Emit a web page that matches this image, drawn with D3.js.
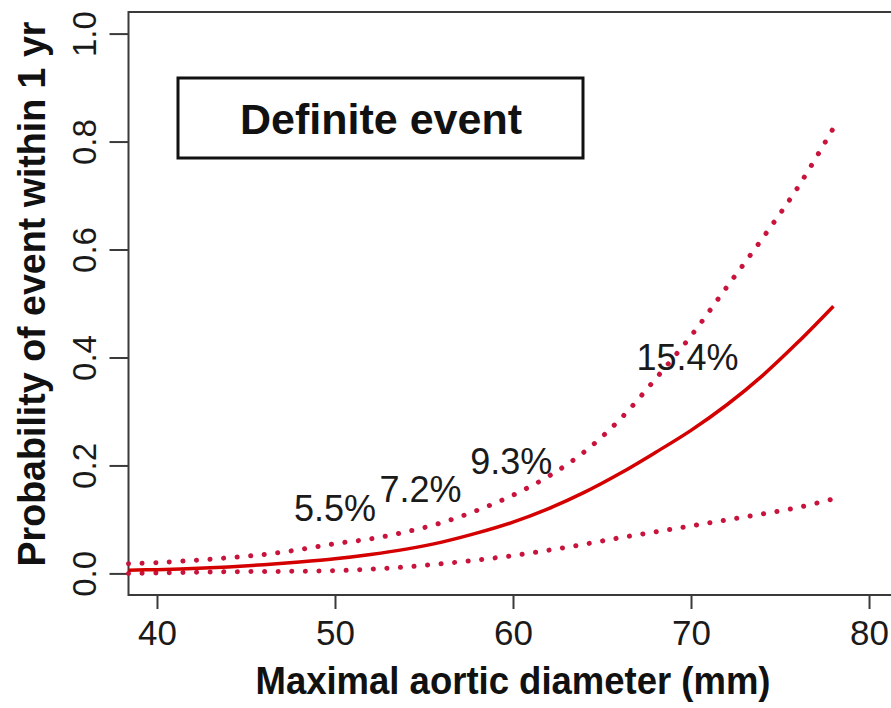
<!DOCTYPE html>
<html>
<head>
<meta charset="utf-8">
<script src="https://cdn.jsdelivr.net/npm/d3@7"></script>
<style>
  body { margin: 0; background: #fff; }
  text { font-family: "Liberation Sans", Arial, sans-serif; }
</style>
</head>
<body>
<script>
// aortic diameter (mm) and fitted 1-yr probability with 95% band
var diameter = [38.4, 40, 42, 44, 46, 48, 50, 52, 54, 56, 58, 60, 62, 64, 66, 68, 70, 72, 74, 76, 78];
var probFit  = [0.006, 0.007, 0.009, 0.012, 0.016, 0.021, 0.027, 0.035, 0.045, 0.058, 0.075, 0.095, 0.12, 0.15, 0.185, 0.224, 0.265, 0.312, 0.366, 0.428, 0.495];
var probUpper = [0.018, 0.02, 0.024, 0.029, 0.035, 0.044, 0.055, 0.064, 0.077, 0.094, 0.117, 0.145, 0.18, 0.225, 0.285, 0.36, 0.44, 0.53, 0.62, 0.715, 0.825];
var probLower = [0.0, 0.001, 0.002, 0.003, 0.0035, 0.004, 0.005, 0.008, 0.012, 0.018, 0.025, 0.033, 0.043, 0.054, 0.066, 0.077, 0.088, 0.099, 0.11, 0.122, 0.138];

// annotation labels
var noteText = ["5.5%", "7.2%", "9.3%", "15.4%"];
var noteX = [50, 54.8, 59.9, 69.8];
var noteY = [0.122, 0.156, 0.209, 0.40];

var xTicks = [40, 50, 60, 70, 80];
var yTicks = [0, 0.2, 0.4, 0.6, 0.8, 1.0];

var width = 891, height = 708;

var svg = d3.select("body").append("svg")
    .attr("width", width)
    .attr("height", height);

// R-style 4% expanded limits
var xScale = d3.scaleLinear().domain([38.4, 81.6]).range([128.5, 897.5]);
var yScale = d3.scaleLinear().domain([-0.04, 1.04]).range([595, 12]);

var plotLeft = xScale.range()[0], plotTop = yScale.range()[1], plotBottom = yScale.range()[0];

// box (right side runs off the picture)
svg.append("path")
    .attr("d", "M" + (width + 5) + "," + plotTop + "H" + plotLeft + "V" + plotBottom + "H" + (width + 5))
    .attr("fill", "none")
    .attr("stroke", "#3a3a3a")
    .attr("stroke-width", 2);

// y axis
var yAxis = d3.axisLeft(yScale)
    .tickValues(yTicks)
    .tickSize(19)
    .tickFormat(d3.format(".1f"));
var gy = svg.append("g")
    .attr("transform", "translate(" + plotLeft + ",0)")
    .call(yAxis);
gy.select(".domain").remove();
gy.selectAll(".tick line").attr("stroke", "#3a3a3a").attr("stroke-width", 2);
gy.selectAll(".tick text")
    .attr("x", null).attr("dy", null)
    .attr("text-anchor", "middle")
    .attr("transform", "translate(-33,0) rotate(-90)")
    .attr("font-size", 33)
    .attr("fill", "#1a1a1a")
    .style("font-family", "'Liberation Sans', Arial, sans-serif");

// x axis
var xAxis = d3.axisBottom(xScale)
    .tickValues(xTicks)
    .tickSize(14)
    .tickFormat(d3.format("d"));
var gx = svg.append("g")
    .attr("transform", "translate(0," + plotBottom + ")")
    .call(xAxis);
gx.select(".domain").remove();
gx.selectAll(".tick line").attr("stroke", "#3a3a3a").attr("stroke-width", 2);
gx.selectAll(".tick text")
    .attr("y", 50).attr("dy", null)
    .attr("font-size", 35)
    .attr("fill", "#1a1a1a")
    .style("font-family", "'Liberation Sans', Arial, sans-serif");

// axis titles
svg.append("text")
    .attr("x", (plotLeft + 897.5) / 2)
    .attr("y", 694)
    .attr("text-anchor", "middle")
    .attr("font-size", 39)
    .attr("font-weight", "bold")
    .attr("textLength", 515)
    .attr("lengthAdjust", "spacingAndGlyphs")
    .attr("fill", "#111")
    .text("Maximal aortic diameter (mm)");

svg.append("text")
    .attr("transform", "translate(45,294) rotate(-90)")
    .attr("text-anchor", "middle")
    .attr("font-size", 39)
    .attr("font-weight", "bold")
    .attr("textLength", 545)
    .attr("lengthAdjust", "spacingAndGlyphs")
    .attr("fill", "#111")
    .text("Probability of event within 1 yr");

// curves
function makeLine(vals) {
    return d3.line()
        .x(function(d, i) { return xScale(diameter[i]); })
        .y(function(d) { return yScale(d); })
        .curve(d3.curveCatmullRom.alpha(0.5))(vals);
}

[probUpper, probLower].forEach(function(vals) {
    svg.append("path")
        .attr("d", makeLine(vals))
        .attr("fill", "none")
        .attr("stroke", "#c8143c")
        .attr("stroke-width", 5)
        .attr("stroke-linecap", "round")
        .attr("stroke-dasharray", "0.1,13.5");
});

svg.append("path")
    .attr("d", makeLine(probFit))
    .attr("fill", "none")
    .attr("stroke", "#d40000")
    .attr("stroke-width", 3.5);

// percent labels
svg.selectAll(".note")
    .data(noteText)
    .enter().append("text")
    .attr("class", "note")
    .attr("x", function(d, i) { return xScale(noteX[i]); })
    .attr("y", function(d, i) { return yScale(noteY[i]); })
    .attr("dy", "0.36em")
    .attr("text-anchor", "middle")
    .attr("font-size", 36)
    .attr("fill", "#1a1a1a")
    .text(function(d) { return d; });

// legend box
svg.append("rect")
    .attr("x", 178).attr("y", 78)
    .attr("width", 405).attr("height", 80)
    .attr("fill", "#fff")
    .attr("stroke", "#111")
    .attr("stroke-width", 3);

svg.append("text")
    .attr("x", 381)
    .attr("y", 134)
    .attr("text-anchor", "middle")
    .attr("font-size", 43)
    .attr("font-weight", "bold")
    .attr("fill", "#111")
    .text("Definite event");
</script>
</body>
</html>
